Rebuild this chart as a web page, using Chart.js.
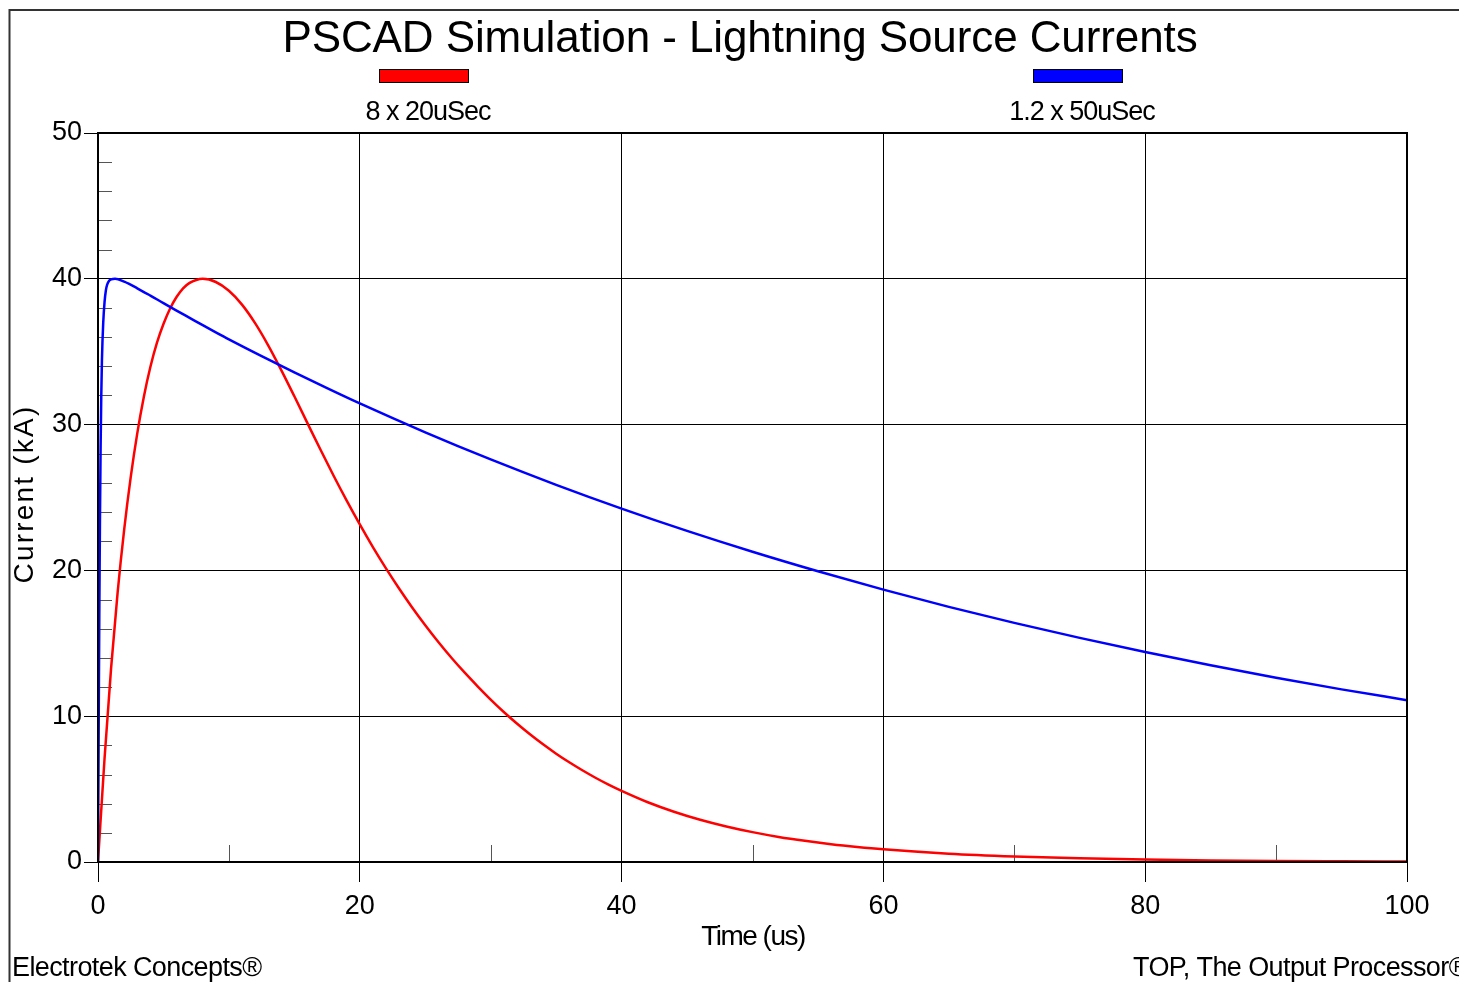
<!DOCTYPE html>
<html>
<head>
<meta charset="utf-8">
<script src="https://cdn.jsdelivr.net/npm/chart.js@4.4.1/dist/chart.umd.min.js"></script>
<style>
  html, body { margin: 0; padding: 0; background: #fff; overflow: hidden; }
  #wrap { width: 1459px; height: 982px; }
</style>
</head>
<body>
<div id="wrap"><canvas id="chart" width="1459" height="982"></canvas></div>
<script>
const FONT = "'Liberation Sans', Arial, Helvetica, sans-serif";

const TITLE = "PSCAD Simulation - Lightning Source Currents";
const X_TITLE = "Time (us)";
const Y_TITLE = "Current (kA)";
const FOOTER_LEFT = "Electrotek Concepts®";
const FOOTER_RIGHT = "TOP, The Output Processor®";

const SERIES_NAMES = ["8 x 20uSec", "1.2 x 50uSec"];
const SERIES_COLORS = ["#ff0000", "#0000ff"];

// 8 x 20 us wave
const tRed = [0, 0.5, 1, 1.5, 2, 2.5, 3, 3.5, 4, 4.5, 5, 5.5, 6, 6.5, 7, 7.5, 8,
  9, 10, 11, 12, 13, 14, 15, 16, 17, 18, 19, 20, 21, 22, 23, 24, 25, 26, 27, 28, 29, 30,
  31, 32, 33, 34, 35, 36, 37, 38, 39, 40, 42, 44, 46, 48, 50, 52, 54, 56, 58, 60,
  65, 70, 75, 80, 85, 90, 95, 100];
const iRed = [0, 7.1, 13.3, 18.5, 22.8, 26.4, 29.4, 31.9, 33.95, 35.6, 36.9, 37.95, 38.75,
  39.35, 39.72, 39.92, 40.0,
  39.78, 39.18, 38.23, 36.96, 35.44, 33.74, 31.94, 30.1, 28.27, 26.49, 24.78, 23.15, 21.6,
  20.14, 18.76, 17.46, 16.24, 15.09, 14.01, 13.0, 12.05, 11.14, 10.29, 9.5, 8.76, 8.07,
  7.43, 6.84, 6.29, 5.78, 5.31, 4.88, 4.1, 3.45, 2.9, 2.44, 2.05, 1.72, 1.45, 1.22, 1.03, 0.87,
  0.57, 0.38, 0.25, 0.165, 0.11, 0.07, 0.045, 0.03];

// 1.2 x 50 us wave
const tBlue = [0, 0.05, 0.1, 0.15, 0.2, 0.25, 0.3, 0.4, 0.5, 0.6, 0.7, 0.85, 1, 1.3, 2,
  3, 4, 5, 6, 7, 8, 9, 10, 12.5, 15, 17.5, 20, 25, 30, 35, 40, 45, 50, 55, 60, 65, 70, 75,
  80, 85, 90, 95, 100];
const iBlue = [0, 9, 17, 23.5, 28.5, 32, 34.4, 37.0, 38.4, 39.2, 39.6, 39.87, 39.96, 40, 39.8,
  39.35, 38.85, 38.33, 37.82, 37.32, 36.82, 36.33, 35.85, 34.7, 33.59, 32.5, 31.45, 29.47,
  27.61, 25.87, 24.24, 22.71, 21.28, 19.94, 18.68, 17.5, 16.4, 15.37, 14.4, 13.49, 12.64,
  11.84, 11.1];

const xMinorTicks = [10, 30, 50, 70, 90];
const yMinorTicks = [2, 4, 6, 8, 12, 14, 16, 18, 22, 24, 26, 28, 32, 34, 36, 38, 42, 44, 46, 48];

function pts(ts, vs) {
  return ts.map((t, i) => ({ x: t, y: vs[i] }));
}

function text(ctx, str, x, y, size, spacing, align) {
  ctx.font = `${size}px ${FONT}`;
  ctx.letterSpacing = spacing + "px";
  ctx.textAlign = align || "center";
  ctx.textBaseline = "alphabetic";
  ctx.fillStyle = "#000";
  ctx.fillText(str, x, y);
}

const decor = {
  id: "decor",
  beforeDraw(chart) {
    const ctx = chart.ctx;
    ctx.save();
    ctx.fillStyle = "#fff";
    ctx.fillRect(0, 0, chart.width, chart.height);
    ctx.restore();
  },
  beforeDatasetsDraw(chart) {
    const { ctx, chartArea: a, scales } = chart;
    ctx.save();
    ctx.strokeStyle = "#555";
    ctx.lineWidth = 1;
    ctx.beginPath();
    yMinorTicks.forEach((v) => {
      const y = Math.round(scales.y.getPixelForValue(v)) + 0.5;
      ctx.moveTo(a.left, y);
      ctx.lineTo(a.left + 14, y);
    });
    xMinorTicks.forEach((v) => {
      const x = Math.round(scales.x.getPixelForValue(v)) + 0.5;
      ctx.moveTo(x, a.bottom);
      ctx.lineTo(x, a.bottom - 17);
    });
    ctx.stroke();
    ctx.restore();
  },
  afterDraw(chart) {
    const { ctx, chartArea: a } = chart;
    ctx.save();
    // outer frame
    ctx.strokeStyle = "#333";
    ctx.lineWidth = 2;
    ctx.beginPath();
    ctx.moveTo(9.5, chart.height);
    ctx.lineTo(9.5, 10);
    ctx.lineTo(chart.width, 10);
    ctx.stroke();
    // plot box
    ctx.strokeStyle = "#000";
    ctx.lineWidth = 2;
    ctx.strokeRect(a.left, a.top, a.right - a.left, a.bottom - a.top);

    text(ctx, TITLE, 740, 52, 44, -0.1);

    // legend
    const legendX = [424, 1078];
    const labelX = [428, 1082];
    SERIES_NAMES.forEach((name, i) => {
      ctx.fillStyle = SERIES_COLORS[i];
      ctx.fillRect(legendX[i] - 44.5, 69.5, 89, 13);
      ctx.strokeStyle = "#000";
      ctx.lineWidth = 1;
      ctx.strokeRect(legendX[i] - 44.5, 69.5, 89, 13);
      text(ctx, name, labelX[i], 120, 27, -1);
    });

    text(ctx, X_TITLE, 753, 945, 28, -1.5);

    ctx.save();
    ctx.translate(33, 494);
    ctx.rotate(-Math.PI / 2);
    text(ctx, Y_TITLE, 0, 0, 28, 2.2);
    ctx.restore();

    text(ctx, FOOTER_LEFT, 12, 976, 27, -0.6, "left");
    text(ctx, FOOTER_RIGHT, 1133, 976, 27, -0.6, "left");
    ctx.restore();
  },
};

new Chart(document.getElementById("chart"), {
  type: "line",
  data: {
    datasets: [
      {
        label: SERIES_NAMES[0],
        data: pts(tRed, iRed),
        borderColor: SERIES_COLORS[0],
        borderWidth: 2.5,
        pointRadius: 0,
        cubicInterpolationMode: "monotone",
        fill: false,
        order: 1,
      },
      {
        label: SERIES_NAMES[1],
        data: pts(tBlue, iBlue),
        borderColor: SERIES_COLORS[1],
        borderWidth: 2.5,
        pointRadius: 0,
        cubicInterpolationMode: "monotone",
        fill: false,
        order: 0,
      },
    ],
  },
  options: {
    responsive: false,
    animation: false,
    events: [],
    layout: { padding: { left: 0, top: 133, right: 52, bottom: 0 } },
    plugins: { legend: { display: false }, title: { display: false }, tooltip: { enabled: false } },
    scales: {
      x: {
        type: "linear",
        min: 0,
        max: 100,
        afterFit(s) { s.height = 120; },
        ticks: { stepSize: 20, color: "#000", padding: 8, font: { family: FONT, size: 27 } },
        grid: { color: "#000", lineWidth: 1, tickLength: 20, tickColor: "#000" },
        border: { display: true, color: "#000", width: 2 },
      },
      y: {
        type: "linear",
        min: 0,
        max: 50,
        afterFit(s) { s.width = 98; },
        ticks: { stepSize: 10, color: "#000", padding: 2, font: { family: FONT, size: 27 } },
        grid: { color: "#000", lineWidth: 1, tickLength: 14, tickColor: "#000" },
        border: { display: true, color: "#000", width: 2 },
      },
    },
  },
  plugins: [decor],
});
</script>
</body>
</html>
